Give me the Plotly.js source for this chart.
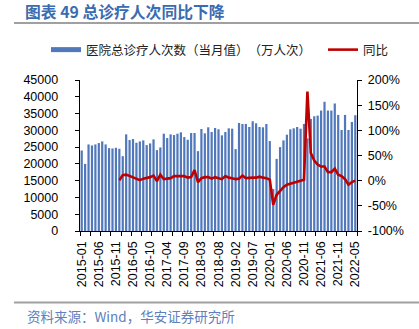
<!DOCTYPE html>
<html>
<head>
<meta charset="utf-8">
<script src="https://cdn.plot.ly/plotly-3.0.1.min.js"></script>
<style>
html,body{margin:0;padding:0;background:#fff;}
#chart{width:419px;height:329px;}
#chart text{text-spacing-trim: space-all;}
</style>
</head>
<body>
<div id="chart"></div>
<script>
// Categories (monthly observations as shown in the source chart)
const months = [
 '2015-01','2015-02','2015-03','2015-04','2015-05','2015-06','2015-07','2015-08','2015-09','2015-10','2015-11','2015-12',
 '2016-02','2016-03','2016-04','2016-05','2016-06','2016-07','2016-08','2016-09','2016-10','2016-11','2016-12',
 '2017-02','2017-03','2017-04','2017-05','2017-06','2017-07','2017-08','2017-09','2017-10','2017-11','2017-12',
 '2018-02','2018-03','2018-04','2018-05','2018-06','2018-07','2018-08','2018-09','2018-10','2018-11','2018-12',
 '2019-02','2019-03','2019-04','2019-05','2019-06','2019-07','2019-08','2019-09','2019-10','2019-11',
 '2020-01','2020-02','2020-03','2020-04','2020-05','2020-06','2020-07','2020-08','2020-09','2020-10','2020-11',
 '2021-02','2021-03','2021-04','2021-05','2021-06','2021-07','2021-08','2021-09','2021-10','2021-11','2021-12',
 '2022-02','2022-03','2022-04','2022-05'
];
const tickLabels = ['2015-01','2015-06','2015-11','2016-05','2016-10','2017-04','2017-09','2018-03','2018-08',
 '2019-02','2019-07','2020-01','2020-06','2020-11','2021-06','2021-11','2022-05'];

// 医院总诊疗人次数（当月值）（万人次）
const visits = [
 24000,20000,25800,25500,25800,26200,26700,25800,24700,24600,24800,24500,
 22300,28800,27100,27400,26300,26700,27000,25600,26100,27300,24100,
 24900,29000,27700,28800,28600,29000,29400,28000,27200,29200,29200,
 23800,30400,29100,30900,29500,30700,30300,28500,29500,30600,30500,
 24400,32200,31900,31900,31000,32700,32100,31000,30900,31900,
 26800,12500,21500,25000,27000,28700,30300,30600,31000,30500,31900,
 27600,33400,34200,34400,35900,38500,35900,35900,38000,34600,30100,
 34600,30100,32500,34500
];
// 同比 (%)
const yoy = [
 null,null,null,null,null,null,null,null,null,null,null,1,
 11,12,9,7,3,1,4,5,7,10,-1,
 12,3,4,5,9,9,9,9,6,7,21,
 -3,5,7,7,4,7,5,3,9,6,5,
 3,4,10,5,6,6,6,8,6,5,
 2,-48,-28,-20,-13,-8,-6,-3,-1,0,2,
 177,55,40,32,28,28,17,17,24,12,9,
 3,-8,-3,0
];
const leftTicks = [0,5000,10000,15000,20000,25000,30000,35000,40000,45000];
const rightTicks = [-100,-50,0,50,100,150,200];

const barName = '医院总诊疗人次数（当月值）（万人次）';
const lineName = '同比';
const titleText = '图表 49 总诊疗人次同比下降';
const sourceText = '资料来源：Wind，华安证券研究所';

const xIdx = months.map((m, i) => i);
const barColor = '#5078bb';
const lineColor = '#c00000';
const cjk = '"Noto Sans CJK SC", "Noto Sans", sans-serif';
const tickFont = {family: '"Liberation Sans", Arial, sans-serif', size: 12.5, color: '#000'};

const traces = [
  {type: 'bar', x: xIdx, y: visits, name: barName, marker: {color: barColor}, yaxis: 'y',
   showlegend: false, legendgroup: 'bars', hoverinfo: 'skip'},
  // legend entry for the bars (drawn as a wide bar swatch like the original)
  {type: 'scatter', mode: 'lines', x: [null], y: [null], name: barName, legendgroup: 'bars',
   legendwidth: 232, line: {color: barColor, width: 5}, yaxis: 'y', hoverinfo: 'skip'},
  {type: 'scatter', mode: 'lines', x: xIdx, y: yoy, name: lineName, yaxis: 'y2',
   line: {color: lineColor, width: 2.6}, connectgaps: false, hoverinfo: 'skip'}
];

const L = 80, R = 357, T = 80, B = 231;
const W = 419, H = 329;
const px = x => (x - L) / (R - L);
const py = y => (B - y) / (B - T);

const layout = {
  width: W, height: H,
  margin: {l: L, r: W - R, t: T, b: H - B, pad: 0},
  paper_bgcolor: '#fff', plot_bgcolor: '#fff',
  showlegend: true,
  bargap: 0.35,
  title: {text: '<b>' + titleText + '</b>', xref: 'container', yref: 'container',
          x: 25 / W, xanchor: 'left', y: 1 - 12.5 / H, yanchor: 'middle',
          font: {family: cjk, size: 15.8, color: '#3b6bb0'}},
  legend: {orientation: 'h', x: px(46), xanchor: 'left', y: py(50), yanchor: 'middle',
           font: {family: cjk, size: 12.5, color: '#222'}, bgcolor: 'rgba(0,0,0,0)',
           traceorder: 'normal', itemclick: false},
  xaxis: {
    range: [-0.5, months.length - 0.5], showgrid: false, zeroline: false,
    showline: true, linecolor: '#000', linewidth: 1.3,
    tickmode: 'array', tickvals: tickLabels.map(t => months.indexOf(t)), ticktext: tickLabels,
    tickangle: -90, ticks: 'outside', ticklen: 4, tickcolor: 'rgba(0,0,0,0)',
    minor: {tickmode: 'linear', tick0: -0.5, dtick: 3, ticks: 'outside', ticklen: 4, tickcolor: '#000', tickwidth: 1},
    tickfont: tickFont, fixedrange: true
  },
  yaxis: {
    range: [0, 45000], showgrid: false, zeroline: false,
    showline: true, linecolor: '#000', linewidth: 1.3,
    tickmode: 'array', tickvals: leftTicks, ticktext: leftTicks.map(v => String(v)),
    ticks: 'outside', ticklen: 4, tickcolor: '#000', ticklabelstandoff: 14,
    tickfont: tickFont, fixedrange: true
  },
  yaxis2: {
    range: [-100, 200], overlaying: 'y', side: 'right', showgrid: false, zeroline: false,
    showline: true, linecolor: '#000', linewidth: 1.3,
    tickmode: 'array', tickvals: rightTicks, ticktext: rightTicks.map(v => v + '%'),
    ticks: 'outside', ticklen: 4, tickcolor: '#000', ticklabelstandoff: 3,
    tickfont: tickFont, fixedrange: true
  },
  shapes: [
    {type: 'line', xref: 'paper', yref: 'paper', x0: px(14), x1: px(419), y0: py(23), y1: py(23),
     line: {color: '#a0a0a0', width: 2}},
    {type: 'line', xref: 'paper', yref: 'paper', x0: px(14), x1: px(419), y0: py(302.5), y1: py(302.5),
     line: {color: '#a0a0a0', width: 2}}
  ],
  annotations: [
    {text: sourceText, xref: 'paper', yref: 'paper', x: px(25), y: py(316), xanchor: 'left', yanchor: 'middle',
     showarrow: false, font: {family: cjk, size: 13.5, color: '#5f80bb'}}
  ]
};

Plotly.newPlot('chart', traces, layout, {staticPlot: true, displayModeBar: false});
</script>
</body>
</html>
